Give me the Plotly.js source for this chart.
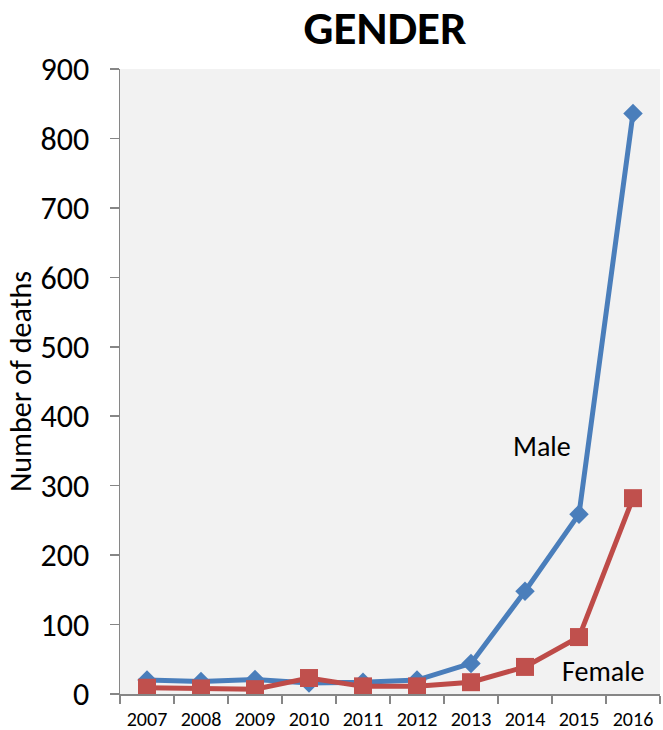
<!DOCTYPE html>
<html><head><meta charset="utf-8">
<script src="https://cdn.plot.ly/plotly-3.0.1.min.js"></script>
<style>body{margin:0;background:#fff}#c{width:663px;height:730px}</style>
</head><body><div id="c"></div>
<script>
const years = ['2007','2008','2009','2010','2011','2012','2013','2014','2015','2016'];
const male = [20, 18, 21, 16, 17, 20, 44, 148, 259, 836];
const female = [9, 8, 7, 23, 11, 11, 17, 39, 82, 282];
const yTicks = [0,100,200,300,400,500,600,700,800,900];

const FONT = 'Carlito, Calibri, Lato, sans-serif';
const traces = [
  {x: years, y: male, type:'scatter', mode:'lines+markers', name:'Male',
   line:{color:'#4A7EBB', width:5}, marker:{symbol:'diamond', size:15, color:'#4A7EBB'}},
  {x: years, y: female, type:'scatter', mode:'lines+markers', name:'Female',
   line:{color:'#BE4B48', width:5}, marker:{symbol:'square', size:18, color:'#C0504D'}}
];
const layout = {
  width:663, height:730,
  margin:{l:120, r:3, t:69, b:36},
  paper_bgcolor:'#ffffff', plot_bgcolor:'#f2f2f2',
  showlegend:false,
  font:{family:FONT, color:'#000'},
  title:{text:'<b>GENDER</b>', font:{size:47, family:FONT, color:'#000'}, x:385/663, xanchor:'center', y:1-28/730, yanchor:'middle'},
  xaxis:{type:'category', showgrid:false, zeroline:false, showline:true, linecolor:'#868686', linewidth:1.5,
         ticks:'outside', tickson:'boundaries', ticklen:8, tickcolor:'#868686', tickwidth:1.5,
         tickfont:{size:20, family:FONT}, ticklabelstandoff:6, range:[-0.5, 9.5]},
  yaxis:{range:[0,900], tickvals:yTicks, showgrid:false, zeroline:false, showline:true, linecolor:'#868686', linewidth:1.5,
         ticks:'outside', ticklen:9, tickcolor:'#868686', tickwidth:1.5, ticklabelstandoff:14,
         tickfont:{size:32, family:FONT},
         title:{text:'Number of deaths', font:{size:30, family:FONT}, standoff:0}},
  annotations:[
    {xref:'x', yref:'y', x:7, y:357, text:'Male', showarrow:false, font:{size:28, family:FONT}, xshift:17},
    {xref:'x', yref:'y', x:8, y:33, text:'Female', showarrow:false, font:{size:28, family:FONT}, xshift:24}
  ]
};
Plotly.newPlot('c', traces, layout, {displayModeBar:false, staticPlot:true});
</script></body></html>
